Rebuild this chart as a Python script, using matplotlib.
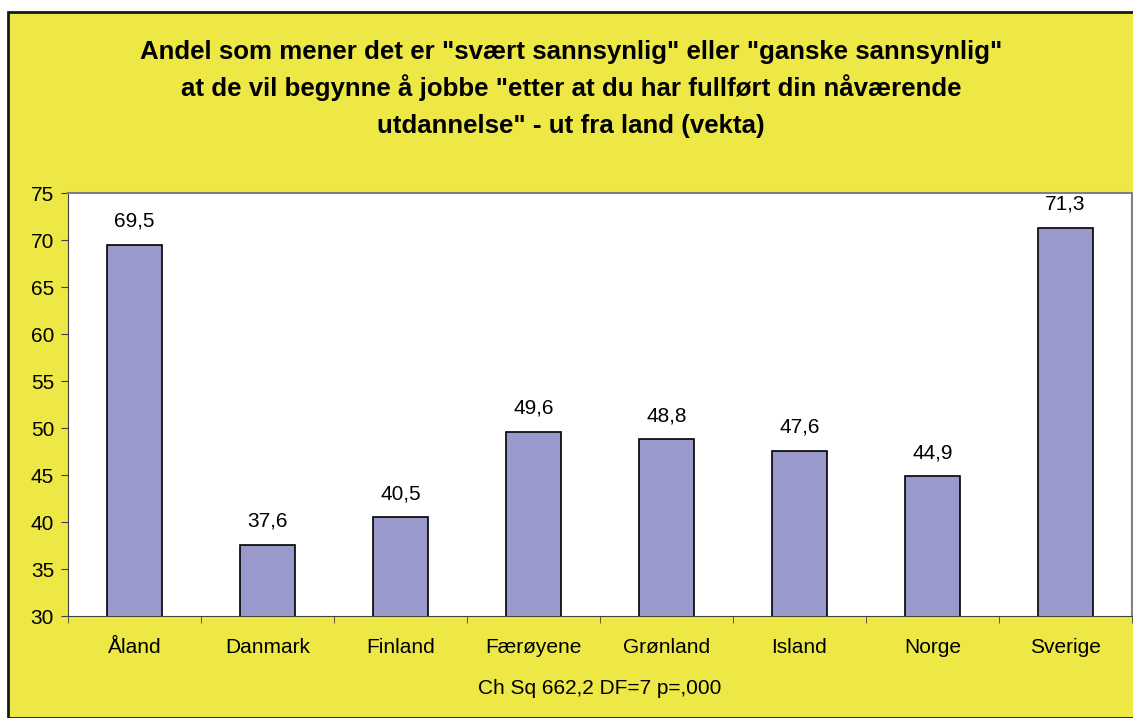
import matplotlib
matplotlib.use("Agg")
import matplotlib.pyplot as plt
from matplotlib.patches import Rectangle
from matplotlib.ticker import FixedLocator

countries = ["Åland", "Danmark", "Finland", "Færøyene", "Grønland", "Island", "Norge", "Sverige"]
values = [69.5, 37.6, 40.5, 49.6, 48.8, 47.6, 44.9, 71.3]
title_lines = [
    'Andel som mener det er "svært sannsynlig" eller "ganske sannsynlig"',
    'at de vil begynne å jobbe "etter at du har fullført din nåværende',
    'utdannelse" - ut fra land (vekta)',
]
footnote = "Ch Sq 662,2 DF=7 p=,000"

plt.rcParams['font.family'] = ['Liberation Sans', 'DejaVu Sans']

W, H = 1133, 718
fig = plt.figure(figsize=(W / 100, H / 100), dpi=100)
fig.patch.set_facecolor("white")

yellow = "#EEE846"
bar_color = "#9999CC"

# yellow chart background with dark border on top and left
bg = Rectangle((8 / W, 0), 1.2, (H - 12) / H, transform=fig.transFigure,
               facecolor=yellow, edgecolor="#1a1a1a", linewidth=2.0, zorder=0)
fig.patches.append(bg)

left, right, top, bottom = 68, 1132, 193, 616
ax = fig.add_axes([left / W, 1 - bottom / H, (right - left) / W, (bottom - top) / H])
ax.set_zorder(2)
ax.set_facecolor("white")

x = range(len(countries))
ax.bar(x, values, width=0.41, color=bar_color, edgecolor="black", linewidth=1.2, zorder=3)
for xi, v in zip(x, values):
    ax.annotate(f"{v:.1f}".replace(".", ","), (xi, v), xytext=(0, 10),
                textcoords="offset points", ha="center", va="bottom", fontsize=15)

ax.set_xlim(-0.5, len(countries) - 0.5)
ax.set_ylim(30, 75)
ax.set_yticks(range(30, 76, 5))
ax.set_xticks(list(x))
ax.set_xticklabels(countries, fontsize=15)
ax.tick_params(axis="x", length=0, pad=16)
ax.xaxis.set_minor_locator(FixedLocator([i + 0.5 for i in range(-1, len(countries))]))
ax.tick_params(axis="x", which="minor", length=5, direction="out", color="#404040")
ax.tick_params(axis="y", length=5, direction="out", labelsize=15, pad=5, color="#404040")

for side in ["top", "right"]:
    ax.spines[side].set_color("#808080")
    ax.spines[side].set_linewidth(1.5)
ax.spines["left"].set_color("#404040")
ax.spines["bottom"].set_color("#404040")

# three-line bold heading, one text per line for even spacing
for i, line in enumerate(title_lines):
    fig.text(571 / W, 1 - (59 + 37 * i) / H, line, ha="center", va="baseline",
             fontsize=18.6, fontweight="bold")
fig.text(600 / W, 1 - 688 / H, footnote, ha="center", va="center", fontsize=15)

fig.savefig("out.png", dpi=100, facecolor=fig.get_facecolor())
